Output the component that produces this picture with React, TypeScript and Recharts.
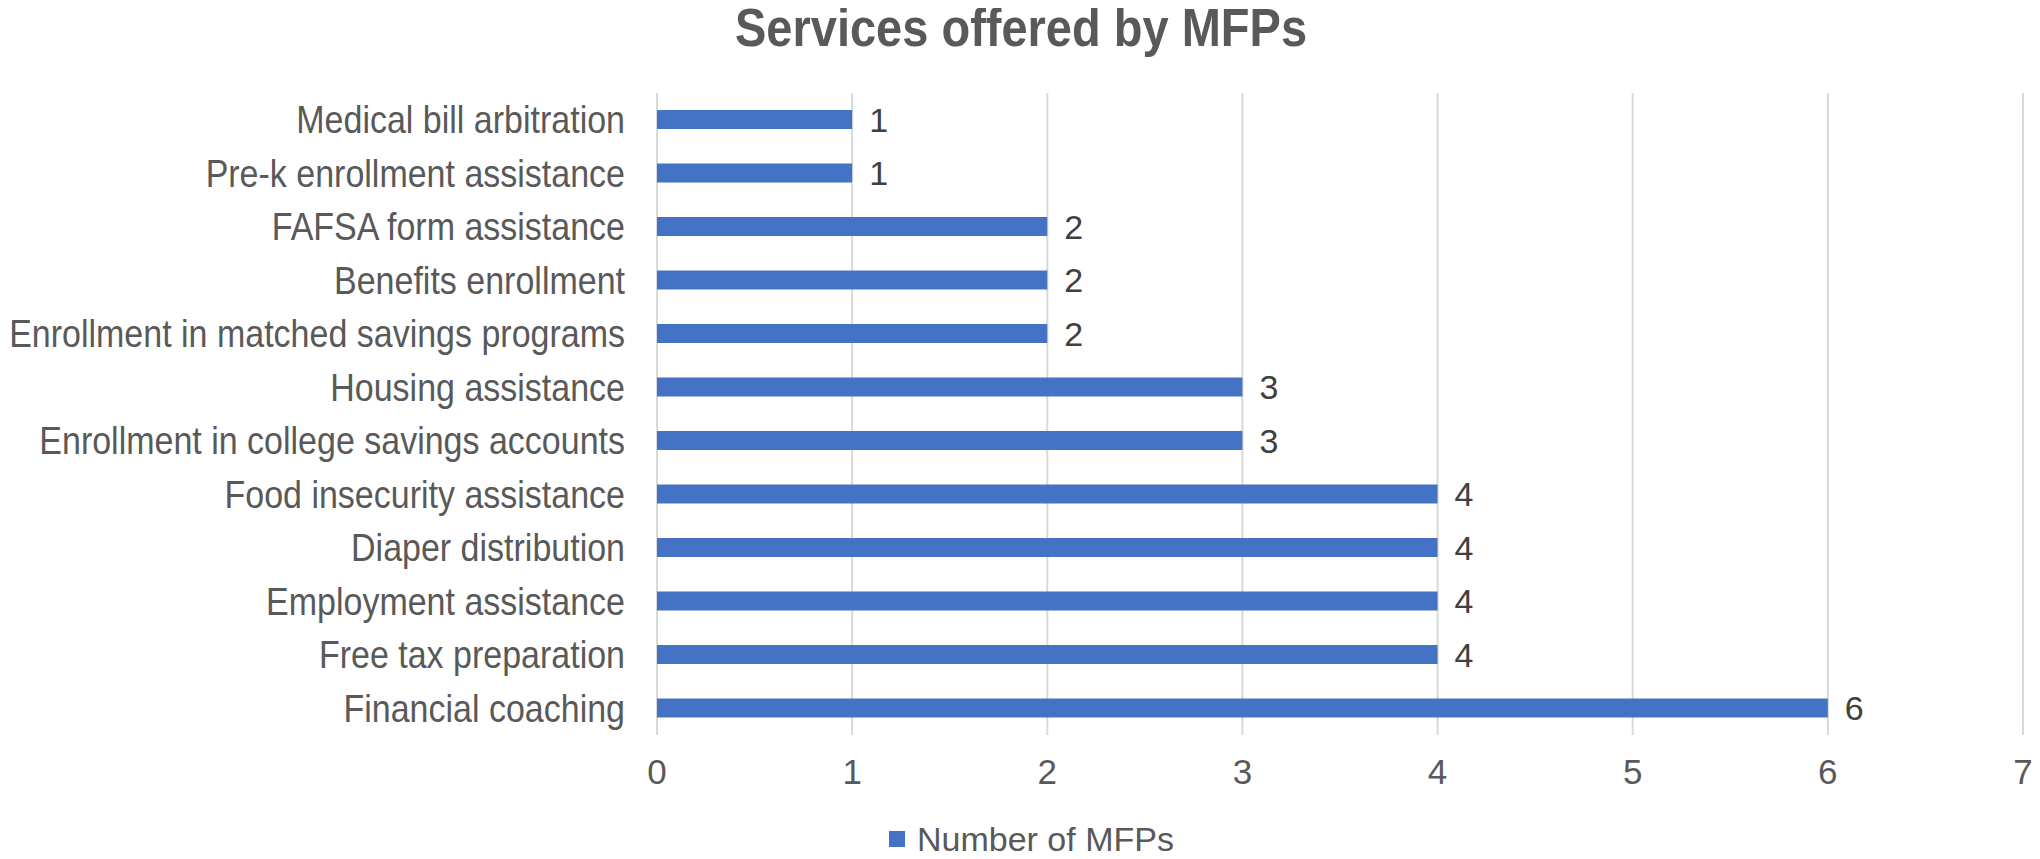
import { Bar, BarChart, CartesianGrid, LabelList, Legend, XAxis, YAxis } from 'recharts'

const services = [
  'Medical bill arbitration',
  'Pre-k enrollment assistance',
  'FAFSA form assistance',
  'Benefits enrollment',
  'Enrollment in matched savings programs',
  'Housing assistance',
  'Enrollment in college savings accounts',
  'Food insecurity assistance',
  'Diaper distribution',
  'Employment assistance',
  'Free tax preparation',
  'Financial coaching',
]
const mfpCounts = [1, 1, 2, 2, 2, 3, 3, 4, 4, 4, 4, 6]
const xTicks = [0, 1, 2, 3, 4, 5, 6, 7]

const FONT = '"Liberation Sans", Arial, sans-serif'
const GREY = '#595959'
const BLUE = '#4472C4'
const STRETCH = 1.15

// category labels in the source look a little taller than plain Arial
function CategoryTick({ x, y, payload }: any) {
  return (
    <text x={x} y={y} textAnchor="end" dominantBaseline="central" fill={GREY} fontSize={34} fontFamily={FONT}
      transform={`translate(0 ${y}) scale(1 ${STRETCH}) translate(0 ${-y})`}>
      {payload.value}
    </text>
  )
}

function LegendBox() {
  return (
    <div style={{ height: 40, display: 'flex', alignItems: 'center', marginLeft: 881, fontFamily: FONT, fontSize: 34, color: GREY }}>
      <span style={{ width: 16, height: 16, background: BLUE, marginRight: 12, display: 'inline-block' }} />
      <span>Number of MFPs</span>
    </div>
  )
}

export default function App() {
  const data = services.map((name, i) => ({ name, value: mfpCounts[i] }))

  return (
    <div style={{ width: 2032, background: '#fff' }}>
      <div style={{ height: 46, lineHeight: '46px', textAlign: 'center', paddingRight: 6, fontFamily: FONT, fontWeight: 'bold', fontSize: 47, color: GREY,
        transform: `translateY(-3px) scaleY(${STRETCH})` }}>
        Services offered by MFPs
      </div>
      <BarChart layout="vertical" data={data} width={2032} height={805} margin={{ top: 39, right: 17, bottom: 0, left: 0 }}>
        <CartesianGrid horizontal={false} stroke="#D9D9D9" strokeWidth={2} />
        <XAxis type="number" domain={[0, 7]} ticks={xTicks} axisLine={false} tickLine={false} height={84} tickMargin={18}
          tick={{ fill: GREY, fontSize: 35, fontFamily: FONT }} />
        <YAxis type="category" dataKey="name" width={649} axisLine={false} tickLine={false} tickMargin={26} interval={0}
          tick={<CategoryTick />} />
        <Legend verticalAlign="bottom" content={() => <LegendBox />} />
        <Bar dataKey="value" name="Number of MFPs" fill={BLUE} barSize={19} isAnimationActive={false}>
          <LabelList dataKey="value" position="right" offset={17} fill="#404040" fontSize={34} fontFamily={FONT} />
        </Bar>
      </BarChart>
    </div>
  )
}
